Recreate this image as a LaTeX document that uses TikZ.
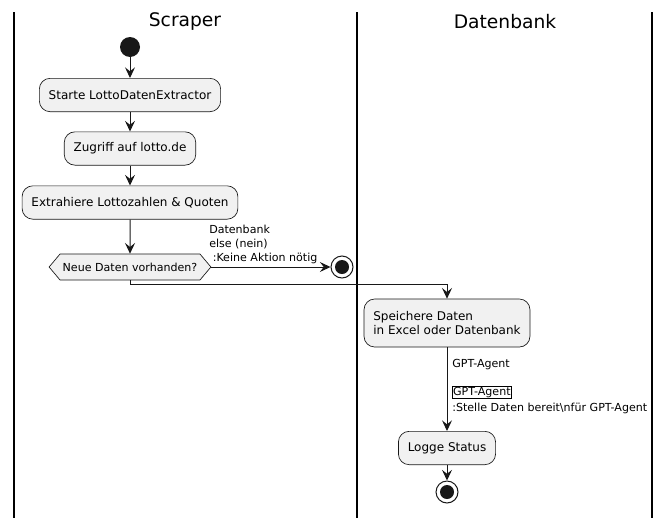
\documentclass[tikz,border=0pt]{standalone}
\usepackage{fontspec}
\setmainfont{DejaVu Sans}
\usetikzlibrary{arrows.meta,shapes.symbols}
\definecolor{boxfill}{HTML}{F1F1F1}
\definecolor{ink}{HTML}{181818}
\begin{document}
\begin{tikzpicture}[x=0.75pt,y=-0.75pt,
  act/.style={draw=ink,fill=boxfill,rounded corners=8pt,line width=0.5pt,inner xsep=7pt,minimum height=25pt,font=\fontsize{9}{11}\selectfont},
  hexa/.style={draw=ink,fill=boxfill,shape=signal,signal to=east and west,signal pointer angle=100,line width=0.5pt,inner xsep=2pt,minimum height=19.5pt,font=\fontsize{8.3}{10}\selectfont},
  flow/.style={draw=ink,line width=0.75pt,-{Stealth[length=8pt,width=7.5pt,inset=3pt]}},
  lbl/.style={font=\fontsize{8.3}{10.5}\selectfont,align=left,inner sep=0pt},
  lane/.style={draw=black,line width=1pt},
  head/.style={font=\fontsize{14}{16}\selectfont,inner sep=0pt}
]
\useasboundingbox (0,0) rectangle (670,518);
% lanes
\draw[lane] (14,12) -- (14,518);
\draw[lane] (357,12) -- (357,518);
\draw[lane] (652,12) -- (652,518);
\node[head] (h1) at (185,22) {Scraper};
\node[head] (h2) at (505,22) {Datenbank};
% start
\node[circle,fill=ink,minimum size=15pt,inner sep=0pt] (start) at (130,47) {};
\node[act] (a1) at (130,95) {Starte LottoDatenExtractor};
\node[act] (a2) at (130,148.5) {Zugriff auf lotto.de};
\node[act] (a3) at (130,202.5) {Extrahiere Lottozahlen \& Quoten};
\node[hexa] (d) at (130,267) {Neue Daten vorhanden?};
% end 1
\node[circle,draw=ink,fill=white,line width=0.75pt,minimum size=16.5pt,inner sep=0pt] (e1) at (342,267) {};
\node[circle,fill=ink,minimum size=10.5pt,inner sep=0pt] at (e1) {};
\node[act,align=left,minimum height=36pt] (a4) at (447,323) {Speichere Daten\\in Excel oder Datenbank};
\node[act] (a5) at (447,448) {Logge Status};
\node[circle,draw=ink,fill=white,line width=0.75pt,minimum size=16.5pt,inner sep=0pt] (e2) at (447,492) {};
\node[circle,fill=ink,minimum size=10.5pt,inner sep=0pt] at (e2) {};
\coordinate (bend) at (130,284);
% flows
\draw[flow] (start) -- (a1);
\draw[flow] (a1) -- (a2);
\draw[flow] (a2) -- (a3);
\draw[flow] (a3) -- (d);
\draw[flow] (d.east) -- (e1);
\draw[flow] (d.south) -- (bend) -| (a4.north);
\draw[flow] (a4) -- (a5);
\draw[flow] (a5) -- (e2);
% labels
\node[lbl,anchor=south west] (l1) at (209,264) {Datenbank\\else (nein)\\\ :Keine Aktion nötig};
\node[lbl,anchor=west] (l2) at (452,365) {GPT-Agent};
\node[lbl,anchor=west,draw=black,line width=0.5pt,inner sep=0.6pt] (l3) at (452,392.5) {GPT-Agent};
\node[lbl,anchor=west] (l4) at (452,408) {:Stelle Daten bereit\textbackslash nfür GPT-Agent};
\end{tikzpicture}
\end{document}
